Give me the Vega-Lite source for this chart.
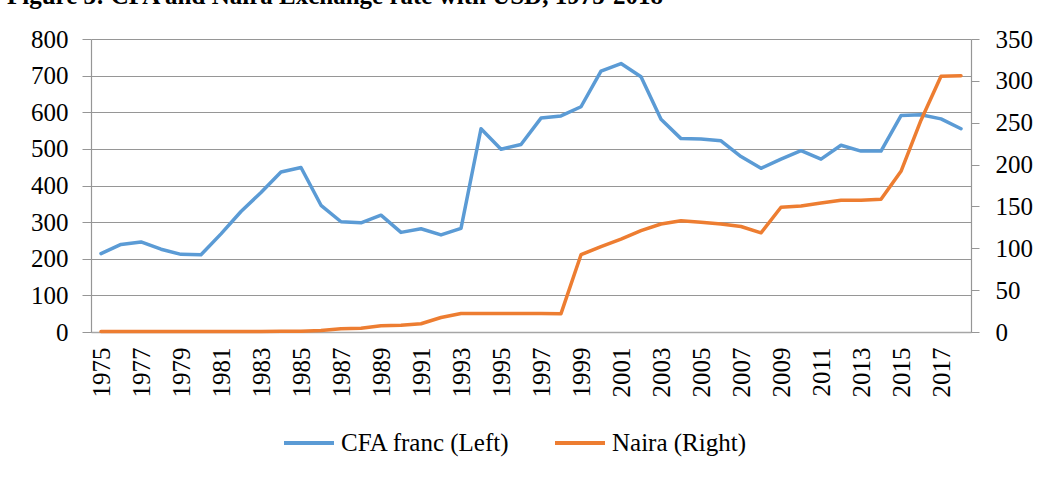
{
  "$schema": "https://vega.github.io/schema/vega-lite/v6.json",
  "autosize": {"type": "none"},
  "width": 880,
  "height": 293,
  "padding": {"left": 91, "top": 39, "right": 75, "bottom": 147},
  "background": "white",
  "title": {
    "text": "Figure 3: CFA and Naira Exchange rate with USD, 1975-2018",
    "anchor": "start",
    "frame": "group",
    "dx": -84,
    "dy": 2,
    "offset": 0,
    "baseline": "alphabetic",
    "font": "Liberation Serif",
    "fontSize": 25,
    "fontWeight": "bold",
    "color": "black"
  },
  "data": {
    "values": [
      {"year": 1975, "cfa": 214, "naira": 0.63},
      {"year": 1976, "cfa": 239, "naira": 0.68},
      {"year": 1977, "cfa": 246, "naira": 0.65},
      {"year": 1978, "cfa": 226, "naira": 0.64},
      {"year": 1979, "cfa": 212, "naira": 0.60},
      {"year": 1980, "cfa": 211, "naira": 0.55},
      {"year": 1981, "cfa": 268, "naira": 0.61},
      {"year": 1982, "cfa": 329, "naira": 0.67},
      {"year": 1983, "cfa": 381, "naira": 0.72},
      {"year": 1984, "cfa": 437, "naira": 0.77},
      {"year": 1985, "cfa": 449, "naira": 0.89},
      {"year": 1986, "cfa": 346, "naira": 1.75},
      {"year": 1987, "cfa": 301, "naira": 4.02},
      {"year": 1988, "cfa": 298, "naira": 4.54},
      {"year": 1989, "cfa": 319, "naira": 7.36},
      {"year": 1990, "cfa": 272, "naira": 8.04},
      {"year": 1991, "cfa": 282, "naira": 9.91},
      {"year": 1992, "cfa": 265, "naira": 17.3},
      {"year": 1993, "cfa": 283, "naira": 22.1},
      {"year": 1994, "cfa": 555, "naira": 22.0},
      {"year": 1995, "cfa": 499, "naira": 22.0},
      {"year": 1996, "cfa": 512, "naira": 22.0},
      {"year": 1997, "cfa": 584, "naira": 22.0},
      {"year": 1998, "cfa": 590, "naira": 21.9},
      {"year": 1999, "cfa": 615, "naira": 92.3},
      {"year": 2000, "cfa": 712, "naira": 102},
      {"year": 2001, "cfa": 733, "naira": 111},
      {"year": 2002, "cfa": 697, "naira": 121},
      {"year": 2003, "cfa": 581, "naira": 129},
      {"year": 2004, "cfa": 528, "naira": 133},
      {"year": 2005, "cfa": 527, "naira": 131},
      {"year": 2006, "cfa": 522, "naira": 129},
      {"year": 2007, "cfa": 479, "naira": 126},
      {"year": 2008, "cfa": 447, "naira": 118.5},
      {"year": 2009, "cfa": 472, "naira": 149},
      {"year": 2010, "cfa": 495, "naira": 150.5},
      {"year": 2011, "cfa": 472, "naira": 154},
      {"year": 2012, "cfa": 510, "naira": 157.5},
      {"year": 2013, "cfa": 494, "naira": 157.3},
      {"year": 2014, "cfa": 494, "naira": 158.5},
      {"year": 2015, "cfa": 591, "naira": 192},
      {"year": 2016, "cfa": 593, "naira": 253},
      {"year": 2017, "cfa": 582, "naira": 305.5},
      {"year": 2018, "cfa": 555, "naira": 306}
    ]
  },
  "encoding": {
    "x": {
      "field": "year",
      "type": "ordinal",
      "scale": {"type": "point", "padding": 0.5},
      "axis": {
        "title": null,
        "values": [1975, 1977, 1979, 1981, 1983, 1985, 1987, 1989, 1991, 1993, 1995, 1997, 1999, 2001, 2003, 2005, 2007, 2009, 2011, 2013, 2015, 2017],
        "labelAngle": 270,
        "labelAlign": "right",
        "labelBaseline": "middle",
        "labelPadding": 15,
        "labelFont": "Liberation Serif",
        "labelFontSize": 25,
        "ticks": false,
        "grid": false,
        "domainColor": "#a6a6a6",
        "domainWidth": 1.5
      }
    }
  },
  "layer": [
    {
      "mark": {"type": "line", "strokeWidth": 3.5, "strokeJoin": "round", "strokeCap": "round"},
      "encoding": {
        "y": {
          "field": "cfa",
          "type": "quantitative",
          "scale": {"domain": [0, 800], "nice": false},
          "axis": {
            "orient": "left",
            "title": null,
            "values": [0, 100, 200, 300, 400, 500, 600, 700, 800],
            "grid": true,
            "gridColor": "#969696",
            "gridWidth": 1.2,
            "tickSize": 9,
            "tickColor": "#969696",
            "domainColor": "#969696",
            "domainWidth": 1.2,
            "labelPadding": 14,
            "labelFont": "Liberation Serif",
            "labelFontSize": 25
          }
        },
        "color": {"datum": "CFA franc (Left)"}
      }
    },
    {
      "mark": {"type": "line", "strokeWidth": 3.5, "strokeJoin": "round", "strokeCap": "round"},
      "encoding": {
        "y": {
          "field": "naira",
          "type": "quantitative",
          "scale": {"domain": [0, 350], "nice": false},
          "axis": {
            "orient": "right",
            "title": null,
            "values": [0, 50, 100, 150, 200, 250, 300, 350],
            "grid": false,
            "tickSize": 8,
            "tickColor": "#969696",
            "domainColor": "#969696",
            "domainWidth": 1.2,
            "labelPadding": 16,
            "labelFont": "Liberation Serif",
            "labelFontSize": 25
          }
        },
        "color": {"datum": "Naira (Right)"}
      }
    }
  ],
  "resolve": {"scale": {"y": "independent"}},
  "config": {
    "font": "Liberation Serif",
    "view": {"stroke": null},
    "range": {"category": ["#5B9BD5", "#ED7D31"]},
    "axis": {
      "labelFont": "Liberation Serif",
      "labelFontSize": 25,
      "labelColor": "black"
    },
    "legend": {
      "orient": "none",
      "legendX": 191,
      "legendY": 377,
      "direction": "horizontal",
      "title": null,
      "labelFont": "Liberation Serif",
      "labelFontSize": 25,
      "labelColor": "black",
      "symbolType": "stroke",
      "symbolSize": 2500,
      "symbolStrokeWidth": 4,
      "labelOffset": 5,
      "columnPadding": 37,
      "labelLimit": 400
    }
  }
}
